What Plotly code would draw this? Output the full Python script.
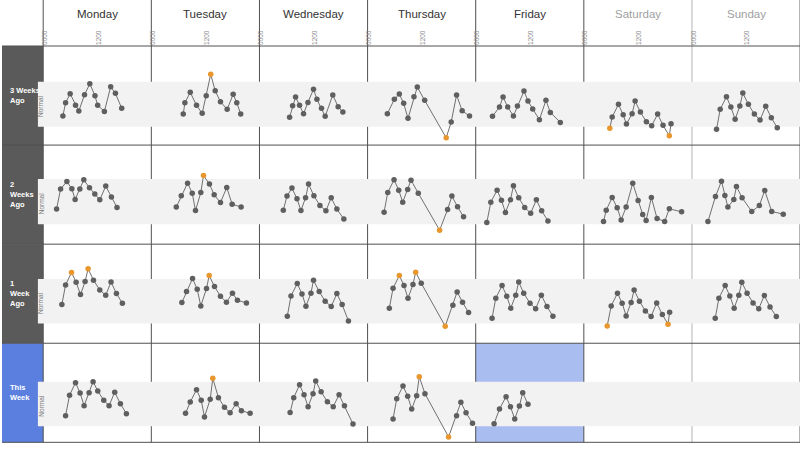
import plotly.graph_objects as go

# ---------------- data ----------------
DAYS = ["Monday", "Tuesday", "Wednesday", "Thursday", "Friday", "Saturday", "Sunday"]
WEEKEND = ["Saturday", "Sunday"]
WEEK_LABELS = ["3 Weeks<br>Ago", "2<br>Weeks<br>Ago", "1<br>Week<br>Ago", "This<br>Week"]
TICK_VALS = [0, 12]
TICK_TEXT = ["0000", "1200"]
NORMAL_LABEL = "Normal"
NORMAL_LOW = [18.5, 20.2, 19.8, 16.2]
NORMAL_HIGH = [63.9, 65.7, 64.9, 61.2]
TODAY_ROW, TODAY_COL = 3, 4

HOURS_3W = [
    [4.05, 4.65, 5.67, 6.87, 7.6, 8.87, 10.05, 11.2, 11.8, 13.3, 14.7, 15.76, 17.16],
    [6.78, 7.14, 8.34, 9.74, 11.0, 11.9, 12.9, 13.9, 15.07, 16.56, 17.9, 18.7, 19.58],
    [6.38, 7.05, 7.71, 8.6, 9.49, 10.47, 11.71, 12.47, 13.49, 14.31, 16.0, 17.2, 18.25],
    [4.07, 5.63, 6.74, 7.71, 8.67, 10.0, 10.74, 12.38, 17.18, 18.29, 19.49, 20.74, 22.38],
    [3.4, 4.96, 5.76, 6.8, 8.07, 8.96, 10.42, 11.31, 12.36, 13.85, 15.31, 16.29, 18.51],
    [5.45, 5.98, 7.38, 8.43, 9.16, 10.42, 11.09, 12.27, 13.6, 14.78, 16.11, 17.31, 18.71, 19.09],
    [5.14, 5.96, 7.36, 8.34, 9.29, 10.34, 11.0, 12.25, 13.58, 14.84, 16.11, 17.36, 18.69],
]
VALUES_3W = [
    [29.3, 42.7, 51.8, 40.1, 34.3, 50.8, 61.9, 49.8, 40.1, 34.0, 58.9, 52.2, 37.1],
    [31.3, 42.7, 53.2, 40.1, 32.0, 49.8, 71.4, 54.8, 43.7, 36.1, 51.2, 42.7, 31.3],
    [28.0, 39.7, 48.5, 40.1, 31.6, 43.1, 56.3, 46.2, 37.1, 29.0, 50.5, 38.7, 33.3],
    [31.6, 46.2, 51.5, 42.1, 27.0, 48.8, 58.6, 45.2, 7.4, 23.2, 50.5, 34.6, 29.3],
    [29.0, 38.4, 48.5, 38.4, 29.3, 39.4, 54.5, 44.4, 36.4, 25.6, 45.2, 33.0, 22.9],
    [16.9, 28.3, 41.1, 30.6, 21.2, 31.6, 44.4, 33.3, 23.5, 19.5, 31.3, 19.9, 9.4, 21.5],
    [15.9, 36.1, 48.8, 38.4, 26.0, 39.4, 52.5, 41.1, 31.3, 25.3, 39.1, 27.6, 17.5],
]
OUTLIERS_3W = [[], [6], [], [8], [], [0, 12], []]

HOURS_2W = [
    [2.65, 3.54, 4.94, 6.05, 6.78, 7.83, 8.71, 9.98, 11.16, 12.27, 13.6, 14.87, 16.11],
    [5.23, 6.34, 7.74, 8.78, 9.51, 10.69, 11.29, 12.62, 13.67, 15.07, 16.47, 17.67, 19.67],
    [4.98, 5.8, 6.91, 8.03, 8.91, 9.94, 10.6, 11.8, 13.14, 14.47, 15.65, 16.91, 18.47],
    [3.34, 4.16, 5.56, 6.6, 7.49, 8.6, 9.34, 10.96, 15.71, 17.49, 18.45, 19.71, 21.05],
    [2.14, 3.03, 4.43, 5.4, 6.29, 7.4, 8.07, 9.25, 10.58, 11.91, 13.18, 14.36, 15.76],
    [4.05, 4.65, 5.98, 7.09, 7.98, 9.09, 10.56, 11.76, 12.78, 13.54, 14.71, 15.98, 17.67, 18.71, 21.45],
    [3.22, 4.91, 6.25, 7.0, 7.67, 9.0, 9.58, 10.85, 13.0, 14.69, 15.89, 17.45, 20.02],
]
VALUES_2W = [
    [35.4, 55.6, 63.2, 55.9, 45.1, 55.6, 64.9, 56.9, 50.5, 44.7, 58.6, 47.5, 37.0],
    [37.4, 48.8, 61.6, 51.5, 33.9, 52.1, 69.3, 60.6, 49.8, 42.0, 57.2, 40.4, 37.4],
    [34.3, 48.5, 56.6, 45.8, 33.9, 46.8, 60.6, 48.8, 39.0, 33.6, 46.8, 35.4, 25.3],
    [32.3, 52.1, 65.0, 54.5, 42.4, 55.2, 64.6, 51.5, 14.1, 34.9, 48.5, 37.7, 27.6],
    [21.8, 42.4, 54.5, 44.4, 32.0, 44.7, 58.9, 46.8, 37.0, 31.3, 44.7, 33.6, 23.5],
    [22.8, 34.3, 47.1, 36.7, 24.5, 37.4, 61.6, 44.0, 29.9, 23.8, 47.1, 25.9, 22.8, 35.7, 32.6],
    [22.8, 48.1, 63.6, 49.1, 37.4, 45.1, 58.2, 46.8, 32.9, 39.0, 54.1, 32.9, 30.3],
]
OUTLIERS_2W = [[], [6], [], [8], [], [], []]

HOURS_1W = [
    [3.83, 4.65, 5.98, 7.0, 7.98, 9.0, 9.67, 10.87, 12.27, 13.6, 14.78, 15.98, 17.31],
    [6.47, 7.51, 8.85, 9.89, 10.69, 11.96, 12.56, 13.74, 15.07, 16.4, 17.74, 18.85, 20.85],
    [5.87, 6.69, 8.09, 9.14, 10.02, 11.14, 11.71, 12.98, 14.31, 15.65, 16.91, 18.09, 19.49],
    [4.51, 5.34, 6.74, 7.78, 8.67, 9.78, 10.38, 11.62, 16.96, 18.67, 19.62, 20.82, 22.16],
    [3.31, 4.14, 5.54, 6.58, 7.47, 8.58, 9.25, 10.36, 11.76, 13.02, 14.29, 15.54, 16.87],
    [4.87, 5.76, 7.16, 8.2, 9.09, 10.2, 10.87, 12.05, 13.38, 14.65, 15.89, 17.16, 18.42, 18.78],
    [4.85, 5.67, 7.07, 8.11, 9.07, 10.11, 10.78, 11.96, 13.29, 14.56, 15.8, 17.07, 18.47],
]
VALUES_1W = [
    [39.0, 58.9, 71.3, 61.6, 49.1, 62.2, 75.1, 63.6, 53.8, 48.5, 61.9, 50.1, 40.4],
    [41.0, 52.1, 65.3, 54.5, 37.7, 55.2, 68.3, 57.2, 47.5, 41.4, 50.5, 43.4, 40.7],
    [27.3, 47.8, 60.2, 49.8, 37.4, 50.5, 63.6, 52.1, 42.4, 37.0, 50.1, 39.0, 22.5],
    [35.4, 55.6, 68.3, 58.2, 45.5, 59.2, 71.7, 60.6, 17.2, 38.4, 51.8, 41.4, 30.9],
    [25.3, 45.5, 58.2, 47.5, 35.4, 48.5, 61.9, 50.5, 40.4, 34.9, 48.5, 37.0, 27.3],
    [17.5, 37.7, 50.5, 40.4, 27.6, 41.0, 53.8, 42.4, 32.6, 26.9, 40.7, 28.9, 19.2, 31.3],
    [25.3, 45.5, 58.2, 47.8, 35.4, 48.5, 61.6, 50.5, 40.7, 34.9, 48.1, 36.7, 26.9],
]
OUTLIERS_1W = [[2, 6], [6], [], [2, 6, 8], [], [0, 12], []]

HOURS_THIS = [
    [4.65, 5.54, 6.87, 7.89, 8.78, 9.89, 10.78, 11.82, 13.16, 14.34, 15.6, 16.87, 18.2],
    [7.29, 8.34, 9.74, 10.78, 11.51, 12.78, 13.36, 14.62, 15.96, 17.22, 18.56, 19.74, 21.67],
    [6.5, 7.3, 8.6, 9.6, 10.5, 11.6, 12.2, 13.4, 14.8, 16.1, 17.4, 18.6, 20.5],
    [5.34, 6.16, 7.56, 8.6, 9.49, 10.6, 11.18, 12.45, 17.71, 19.49, 20.45, 21.6, 23.05],
    [3.76, 4.96, 6.43, 7.4, 8.36, 9.4, 10.14, 11.31],
    [],
    [],
]
VALUES_THIS = [
    [26.9, 47.5, 60.2, 49.8, 37.0, 50.1, 61.2, 51.8, 42.4, 37.0, 50.5, 39.0, 28.9],
    [29.3, 40.7, 53.1, 42.4, 25.6, 43.4, 64.6, 45.1, 35.4, 29.9, 39.0, 31.9, 29.3],
    [30, 45, 58, 48, 36, 49, 62, 51, 41, 36, 48, 37, 18.5],
    [23.5, 44.0, 56.9, 46.5, 33.6, 47.1, 66.3, 49.1, 5.4, 26.9, 40.4, 29.9, 19.2],
    [18.8, 33.6, 46.1, 36.0, 23.5, 36.7, 50.1, 38.4],
    [],
    [],
]
OUTLIERS_THIS = [[], [6], [], [6, 8], [], [], []]

ROWS_HOURS = [HOURS_3W, HOURS_2W, HOURS_1W, HOURS_THIS]
ROWS_VALUES = [VALUES_3W, VALUES_2W, VALUES_1W, VALUES_THIS]
ROWS_OUTLIERS = [OUTLIERS_3W, OUTLIERS_2W, OUTLIERS_1W, OUTLIERS_THIS]

# ---------------- layout geometry (pixels) ----------------
W, H = 800, 450
LEFT = 41.3
COLW = 108.4
TOP = 46.0
ROWH = 99.08
PX_PER_HOUR = 4.5
X_OFF = 1.5
BAND_LEFT = 36.0
FONT = "Liberation Sans, Arial, sans-serif"

DARK = "#5a5a5a"
BLUE = "#5b7fdf"
TODAY_FILL = "#aabdf0"
BAND_FILL = "#f2f2f2"
GRID_DARK = "#505050"
GRID_LIGHT = "#b4b4b4"
DOT = "#5f5f5f"
ORANGE = "#e8962e"

def px_x(x):
    return x / W

def px_y(y):
    return 1 - y / H

fig = go.Figure()

x_range = [-X_OFF / PX_PER_HOUR, (COLW - X_OFF) / PX_PER_HOUR]
layout_axes = {}
for c in range(7):
    name = "xaxis" if c == 0 else f"xaxis{c+1}"
    layout_axes[name] = dict(
        domain=[px_x(LEFT + c * COLW), min(1.0, px_x(LEFT + (c + 1) * COLW))],
        anchor="y", side="top", range=x_range,
        tickmode="array", tickvals=TICK_VALS, ticktext=TICK_TEXT,
        tickangle=-90, tickfont=dict(size=6.5, color="#8a8a8a", family=FONT),
        ticks="", showgrid=False, zeroline=False, showline=False, fixedrange=True,
    )
for r in range(4):
    name = "yaxis" if r == 0 else f"yaxis{r+1}"
    layout_axes[name] = dict(
        domain=[px_y(TOP + (r + 1) * ROWH), px_y(TOP + r * ROWH)],
        anchor="x", range=[0, 100], showticklabels=False, ticks="",
        showgrid=False, zeroline=False, showline=False, fixedrange=True,
    )

# traces
for r in range(4):
    for c in range(7):
        hrs = ROWS_HOURS[r][c]
        vals = ROWS_VALUES[r][c]
        if not hrs:
            continue
        outs = ROWS_OUTLIERS[r][c]
        colors = [ORANGE if i in outs else DOT for i in range(len(hrs))]
        fig.add_trace(go.Scatter(
            x=hrs, y=vals, mode="lines+markers",
            xaxis="x" if c == 0 else f"x{c+1}",
            yaxis="y" if r == 0 else f"y{r+1}",
            line=dict(color="#707070", width=1),
            marker=dict(color=colors, size=5.5, line=dict(width=0)),
            showlegend=False, hoverinfo="skip",
        ))

shapes = []
# week label boxes
for r in range(4):
    shapes.append(dict(
        type="rect", xref="paper", yref="paper", layer="below",
        x0=0, x1=px_x(LEFT), y0=px_y(TOP + (r + 1) * ROWH), y1=px_y(TOP + r * ROWH),
        fillcolor=BLUE if r == 3 else DARK, line=dict(width=0),
    ))
# today's cell
shapes.append(dict(
    type="rect", xref="paper", yref="paper", layer="below",
    x0=px_x(LEFT + TODAY_COL * COLW), x1=px_x(LEFT + (TODAY_COL + 1) * COLW),
    y0=px_y(TOP + (TODAY_ROW + 1) * ROWH), y1=px_y(TOP + TODAY_ROW * ROWH),
    fillcolor=TODAY_FILL, line=dict(width=0),
))
# grid lines
for c in range(8):
    xp = min(LEFT + c * COLW, W - 0.5)
    col = GRID_LIGHT if c >= 6 else GRID_DARK
    shapes.append(dict(
        type="line", xref="paper", yref="paper", layer="below",
        x0=px_x(xp), x1=px_x(xp), y0=px_y(TOP + 4 * ROWH), y1=1,
        line=dict(color=col, width=1),
    ))
for r in range(5):
    yp = TOP + r * ROWH
    shapes.append(dict(
        type="line", xref="paper", yref="paper", layer="below",
        x0=0, x1=1, y0=px_y(yp), y1=px_y(yp),
        line=dict(color=GRID_DARK, width=1),
    ))
# normal bands
for r in range(4):
    shapes.append(dict(
        type="rect", xref="paper", yref="y" if r == 0 else f"y{r+1}", layer="below",
        x0=px_x(BAND_LEFT), x1=1, y0=NORMAL_LOW[r], y1=NORMAL_HIGH[r],
        fillcolor=BAND_FILL, line=dict(width=0),
    ))

annotations = []
for c, d in enumerate(DAYS):
    annotations.append(dict(
        text=d, xref="paper", yref="paper", showarrow=False,
        x=px_x(LEFT + (c + 0.5) * COLW), y=px_y(14), xanchor="center", yanchor="middle",
        font=dict(size=11.5, color="#a0a0a0" if d in WEEKEND else "#333333", family=FONT),
    ))
for r, lab in enumerate(WEEK_LABELS):
    annotations.append(dict(
        text=lab, xref="paper", yref="paper", showarrow=False,
        x=px_x(6), y=px_y(TOP + (r + 0.5) * ROWH), xanchor="left", yanchor="middle",
        align="left",
        font=dict(size=7.5, color="white", family=FONT, weight="bold"),
    ))
    annotations.append(dict(
        text=NORMAL_LABEL, xref="paper", yref="y" if r == 0 else f"y{r+1}", showarrow=False,
        x=px_x(39.3), y=(NORMAL_LOW[r] + NORMAL_HIGH[r]) / 2 - 1.5, textangle=-90,
        xanchor="center", yanchor="middle",
        font=dict(size=6.5, color="#7a7a7a", family=FONT),
    ))

fig.update_layout(
    width=W, height=H, margin=dict(l=0, r=0, t=0, b=0),
    paper_bgcolor="white", plot_bgcolor="white",
    shapes=shapes, annotations=annotations, showlegend=False,
    **layout_axes,
)

fig.write_html(
    "out.html",
    config={"displayModeBar": False, "staticPlot": True},
    post_script="document.body.style.margin='0';document.body.style.overflow='hidden';",
)
